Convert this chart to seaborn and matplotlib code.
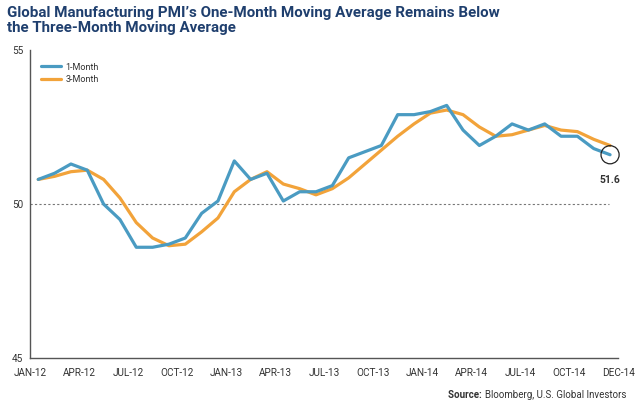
import numpy as np
import pandas as pd
import seaborn as sns
import matplotlib.pyplot as plt
from matplotlib.lines import Line2D

# Global manufacturing PMI, Jan 2012 - Dec 2014
months = ["JAN-12", "FEB-12", "MAR-12", "APR-12", "MAY-12", "JUN-12", "JUL-12", "AUG-12", "SEP-12",
          "OCT-12", "NOV-12", "DEC-12", "JAN-13", "FEB-13", "MAR-13", "APR-13", "MAY-13", "JUN-13",
          "JUL-13", "AUG-13", "SEP-13", "OCT-13", "NOV-13", "DEC-13", "JAN-14", "FEB-14", "MAR-14",
          "APR-14", "MAY-14", "JUN-14", "JUL-14", "AUG-14", "SEP-14", "OCT-14", "NOV-14", "DEC-14"]
one_month = [50.8, 51.0, 51.3, 51.1, 50.0, 49.5, 48.6, 48.6, 48.7, 48.9, 49.7, 50.1,
             51.4, 50.8, 51.0, 50.1, 50.4, 50.4, 50.6, 51.5, 51.7, 51.9, 52.9, 52.9,
             53.0, 53.2, 52.4, 51.9, 52.2, 52.6, 52.4, 52.6, 52.2, 52.2, 51.8, 51.6]
three_month = [50.8, 50.9, 51.05, 51.1, 50.8, 50.2, 49.4, 48.9, 48.65, 48.7, 49.1, 49.55,
               50.4, 50.8, 51.05, 50.65, 50.5, 50.3, 50.5, 50.85, 51.3, 51.75, 52.2, 52.6,
               52.95, 53.05, 52.9, 52.5, 52.2, 52.25, 52.4, 52.55, 52.4, 52.35, 52.1, 51.9]
tick_labels = ["JAN-12", "APR-12", "JUL-12", "OCT-12", "JAN-13", "APR-13", "JUL-13",
               "OCT-13", "JAN-14", "APR-14", "JUL-14", "OCT-14", "DEC-14"]
y_ticks = [45, 50, 55]

BLUE = "#4a9bc2"
ORANGE = "#f2a33a"
NAVY = "#1f3f6e"
GREY = "#555555"

df = pd.DataFrame({"idx": np.arange(len(months)), "1-Month": one_month, "3-Month": three_month})
long_df = df.melt(id_vars="idx", var_name="series", value_name="pmi")

sns.set_theme(style="white")
plt.rcParams["font.family"] = ["Roboto", "DejaVu Sans"]

fig = plt.figure(figsize=(6.4, 4.09), dpi=100)
ax = fig.add_axes([0.047, 0.124, 0.919, 0.754])

sns.lineplot(data=long_df, x="idx", y="pmi", hue="series", hue_order=["3-Month", "1-Month"],
             palette={"1-Month": BLUE, "3-Month": ORANGE}, linewidth=2.3, ax=ax, legend=False)

# dashed 50 line
ax.axhline(50, xmin=0, xmax=0.985, color="#777777", linestyle=(0, (2, 2)), linewidth=0.8, zorder=0)

ax.set_xlim(-0.5, len(months) - 0.5)
ax.set_ylim(45, 55)
tick_pos = [months.index(t) - 0.5 for t in tick_labels[:-1]] + [len(months) - 0.5]
ax.set_xticks(tick_pos)
ax.set_xticklabels(tick_labels)
ax.set_yticks(y_ticks)
ax.set_xlabel("")
ax.set_ylabel("")
ax.tick_params(axis="both", direction="out", length=3, width=0.8, color=GREY,
               labelsize=7.2, labelcolor="#333333", pad=2)
ax.tick_params(axis="x", pad=4)
for s in ["top", "right"]:
    ax.spines[s].set_visible(False)
for s in ["left", "bottom"]:
    ax.spines[s].set_color(GREY)
    ax.spines[s].set_linewidth(1.0)

# legend
handles = [Line2D([], [], color=BLUE, lw=2.3), Line2D([], [], color=ORANGE, lw=2.3)]
ax.legend(handles, ["1-Month", "3-Month"], loc="upper left", bbox_to_anchor=(0.005, 0.985),
          frameon=False, fontsize=6.5, handlelength=2.2, handletextpad=0.5,
          labelspacing=0.4, labelcolor="#333333")

# last value annotation
last_x = len(months) - 1
ax.scatter([last_x], [one_month[-1]], s=170, facecolors="none", edgecolors="#222222",
           linewidths=0.9, zorder=5, clip_on=False)
ax.annotate(f"{one_month[-1]:.1f}", (last_x, one_month[-1]), xytext=(0, -18),
            textcoords="offset points", ha="center", va="center",
            fontsize=7.5, fontweight="bold", color="#333333")

fig.text(0.011, 0.985, "Global Manufacturing PMI\u2019s One-Month Moving Average Remains Below\n"
         "the Three-Month Moving Average", ha="left", va="top", fontsize=10.9,
         fontweight="bold", color=NAVY, linespacing=1.05)

src = fig.text(0.978, 0.035, "Bloomberg, U.S. Global Investors", ha="right", va="center",
               fontsize=7, color="#333333")
ax.annotate("Source: ", xy=(0, 0.5), xycoords=src, ha="right", va="center",
            fontsize=7, fontweight="bold", color="#333333")

fig.savefig("out.png", dpi=100)
